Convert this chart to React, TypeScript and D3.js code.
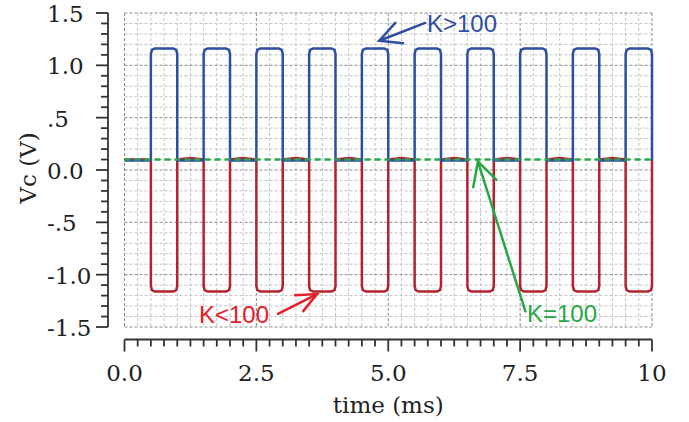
import * as d3 from 'd3';
import React from 'react';

// edges of the square pulses (ms)
const riseTimes = [0.5, 1.5, 2.5, 3.5, 4.5, 5.5, 6.5, 7.5, 8.5, 9.5];
const fallTimes = [1.0, 2.0, 3.0, 4.0, 5.0, 6.0, 7.0, 8.0, 9.0, 10.0];

// levels (V)
const blueLow = 0.09;
const blueHigh = 1.16;
const redLow = 0.1;
const redHump = 0.115;
const redHigh = -1.16;
const greenLevel = 0.1;

const yTickValues = [-1.5, -1.0, -0.5, 0.0, 0.5, 1.0, 1.5];
const yTickLabels = ['-1.5', '-1.0', '-.5', '0.0', '.5', '1.0', '1.5'];
const xTickValues = [0, 2.5, 5, 7.5, 10];
const xTickLabels = ['0.0', '2.5', '5.0', '7.5', '10'];

const W = 689, H = 422;
const margin = { top: 13, right: 37, bottom: 94, left: 124.5 };
const serif = 'DejaVu Serif, serif';
const sans = 'Liberation Sans, Arial, sans-serif';

const x = d3.scaleLinear().domain([0, 10]).range([margin.left, W - margin.right]);
const y = d3.scaleLinear().domain([-1.5, 1.5]).range([H - margin.bottom - 1, margin.top]);

// build one trace with small rounded corners
function wave(low: number, high: number, hump: number) {
  const s = high > low ? 1 : -1;
  const pts: [number, number][] = [[0, low]];
  riseTimes.forEach((r, i) => {
    const f = fallTimes[i];
    pts.push([r, low], [r, high - 0.05 * s], [r + 0.02, high - 0.012 * s], [r + 0.07, high],
      [f - 0.07, high], [f - 0.02, high - 0.012 * s], [f, high - 0.05 * s], [f, low]);
    if (i < riseTimes.length - 1) pts.push([(f + riseTimes[i + 1]) / 2, hump]);
  });
  return pts;
}

const line = d3.line<[number, number]>().x(d => x(d[0])).y(d => y(d[1]));

function Arrow({ from, to, color, len = 24, ang = 27 }: any) {
  const [x1, y1] = [x(from[0]), y(from[1])];
  const [x2, y2] = [x(to[0]), y(to[1])];
  const a = Math.atan2(y1 - y2, x1 - x2);
  const r = (ang * Math.PI) / 180;
  const p1 = [x2 + len * Math.cos(a + r), y2 + len * Math.sin(a + r)];
  const p2 = [x2 + len * Math.cos(a - r), y2 + len * Math.sin(a - r)];
  return (
    <g stroke={color} strokeWidth={2.5} fill="none" strokeLinecap="round">
      <line x1={x1} y1={y1} x2={x2} y2={y2} />
      <polyline points={`${p1[0]},${p1[1]} ${x2},${y2} ${p2[0]},${p2[1]}`} />
    </g>
  );
}

export default function App() {
  const gridX = d3.range(0, 10.001, 0.25);
  const gridY = d3.range(-15, 16).map(v => v / 10);
  const axisX = 108;
  const axisY = 339.5;

  return (
    <svg width={W} height={H} style={{ position: 'absolute', left: 0, top: 0, background: '#fff' }}>
      {/* grid */}
      <g fill="none">
        {gridX.map(t => {
          const major = Math.abs(t / 2.5 - Math.round(t / 2.5)) < 1e-6;
          return <line key={'gx' + t} x1={x(t)} x2={x(t)} y1={y(1.5)} y2={y(-1.5)}
            stroke={major ? '#8a8a8a' : '#c4c4c4'} strokeWidth={1} strokeDasharray="3 2" />;
        })}
        {gridY.map(v => {
          const major = Math.abs(v * 2 - Math.round(v * 2)) < 1e-6;
          return <line key={'gy' + v} x1={x(0)} x2={x(10)} y1={y(v)} y2={y(v)}
            stroke={major ? '#8a8a8a' : '#c4c4c4'} strokeWidth={1} strokeDasharray="3 2" />;
        })}
      </g>

      {/* traces */}
      <path d={line(wave(redLow, redHigh, redHump)) || ''} fill="none" stroke="#b5222f" strokeWidth={2.5} strokeLinejoin="round" />
      <path d={line(wave(blueLow, blueHigh, blueLow)) || ''} fill="none" stroke="#2d4ea2" strokeWidth={2.5} strokeLinejoin="round" />
      <line x1={x(0)} x2={x(10)} y1={y(greenLevel)} y2={y(greenLevel)} stroke="#2aa84a" strokeWidth={2.5} strokeDasharray="6 4" />

      {/* y axis */}
      <g stroke="#333" strokeWidth={1.8}>
        <line x1={axisX} x2={axisX} y1={y(1.5)} y2={y(-1.5)} />
        {gridY.map(v => {
          const major = Math.abs(v * 2 - Math.round(v * 2)) < 1e-6;
          return <line key={'yt' + v} x1={axisX - (major ? 12 : 7)} x2={axisX} y1={y(v)} y2={y(v)} />;
        })}
      </g>
      {yTickValues.map((v, i) => (
        <text key={'yl' + v} x={47} y={y(v) + 1} dominantBaseline="central" fontFamily={serif} fontSize={23} fill="#222">
          {yTickLabels[i]}
        </text>
      ))}
      <text transform={`translate(28,${y(0) - 2}) rotate(-90)`} textAnchor="middle" dominantBaseline="central"
        fontFamily={serif} fontSize={23} fill="#222">Vc (V)</text>

      {/* x axis */}
      <g stroke="#333" strokeWidth={1.8}>
        <line x1={x(0)} x2={x(10)} y1={axisY} y2={axisY} />
        {gridX.map(t => {
          const major = Math.abs(t / 2.5 - Math.round(t / 2.5)) < 1e-6;
          return <line key={'xt' + t} x1={x(t)} x2={x(t)} y1={axisY} y2={axisY + (major ? 12 : 7)} />;
        })}
      </g>
      {xTickValues.map((t, i) => (
        <text key={'xl' + t} x={x(t)} y={373} textAnchor="middle" dominantBaseline="central" fontFamily={serif} fontSize={23} fill="#222">
          {xTickLabels[i]}
        </text>
      ))}
      <text x={x(5)} y={405} textAnchor="middle" dominantBaseline="central" fontFamily={serif} fontSize={23} fill="#222">time (ms)</text>

      {/* annotations */}
      <Arrow from={[5.7, 1.405]} to={[4.83, 1.235]} color="#2d4ea2" />
      <text x={427} y={32} fontFamily={sans} fontSize={24} fill="#2d4ea2">{'K>100'}</text>

      <Arrow from={[2.91, -1.375]} to={[3.65, -1.185]} color="#e5202b" len={22} ang={24} />
      <text x={199} y={323} fontFamily={sans} fontSize={24} fill="#e5202b">{'K<100'}</text>

      <Arrow from={[7.6, -1.35]} to={[6.7, 0.08]} color="#28a845" len={26} ang={28} />
      <text x={527} y={322} fontFamily={sans} fontSize={24} fill="#28a845">K=100</text>
    </svg>
  );
}
